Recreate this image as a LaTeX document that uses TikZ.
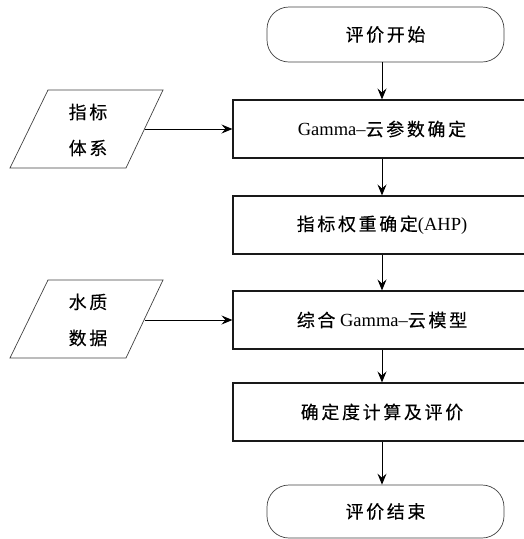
\documentclass[tikz,border=0pt]{standalone}
\usepackage{fontspec}
\setmainfont{Liberation Serif}
\newfontfamily\cjk[LetterSpace=15,Scale=0.97,FakeBold=0.25]{Noto Sans CJK SC}
\usetikzlibrary{arrows.meta}
\begin{document}
\begin{tikzpicture}[x=1pt,y=-1pt,
  procbox/.style={draw=black!90, line width=1.1pt, minimum width=298pt, minimum height=58pt, inner sep=0pt, font=\fontsize{18.5}{22}\selectfont},
  termbox/.style={draw=black!75, line width=0.7pt, rounded corners=22pt, minimum width=237pt, minimum height=55pt, inner sep=0pt, font=\fontsize{18.5}{22}\selectfont},
  para/.style={draw=black!75, line width=0.7pt},
  paratext/.style={align=center, inner sep=0pt, font=\fontsize{18.5}{36}\selectfont},
  arr/.style={-{Stealth[length=11pt,width=9pt,inset=4pt]}, line width=1pt}]
\clip (0,0) rectangle (524,539);
\node[termbox] (start) at (385.5,34.5) {\cjk 评价开始};
\node[procbox] (b1) at (382,129) {Gamma–{\cjk 云参数确定}};
\node[procbox] (b2) at (382,225) {{\cjk 指标权重确定}(AHP)};
\node[procbox] (b3) at (382,320) {{\cjk 综合} Gamma–{\cjk 云模型}};
\node[procbox] (b4) at (382,412) {\cjk 确定度计算及评价};
\node[termbox, minimum height=53pt] (end) at (385.5,511.5) {\cjk 评价结束};

\draw[para] (48,90) -- (163,90) -- (126,168) -- (10,168) -- cycle;
\node[paratext] (p1) at (88,130) {\cjk 指标\\\cjk 体系};
\coordinate (p1e) at (145,129);
\draw[para] (48,280) -- (163,280) -- (126,358) -- (10,358) -- cycle;
\node[paratext] (p2) at (88,320) {\cjk 水质\\\cjk 数据};
\coordinate (p2e) at (145,320);

\draw[arr] (b1.north |- start.south) -- (b1.north);
\draw[arr] (b1) -- (b2);
\draw[arr] (b2) -- (b3);
\draw[arr] (b3) -- (b4);
\draw[arr] (b4.south) -- (b4.south |- end.north);
\draw[arr] (p1e) -- (p1e -| b1.west);
\draw[arr] (p2e) -- (p2e -| b3.west);
\end{tikzpicture}
\end{document}
